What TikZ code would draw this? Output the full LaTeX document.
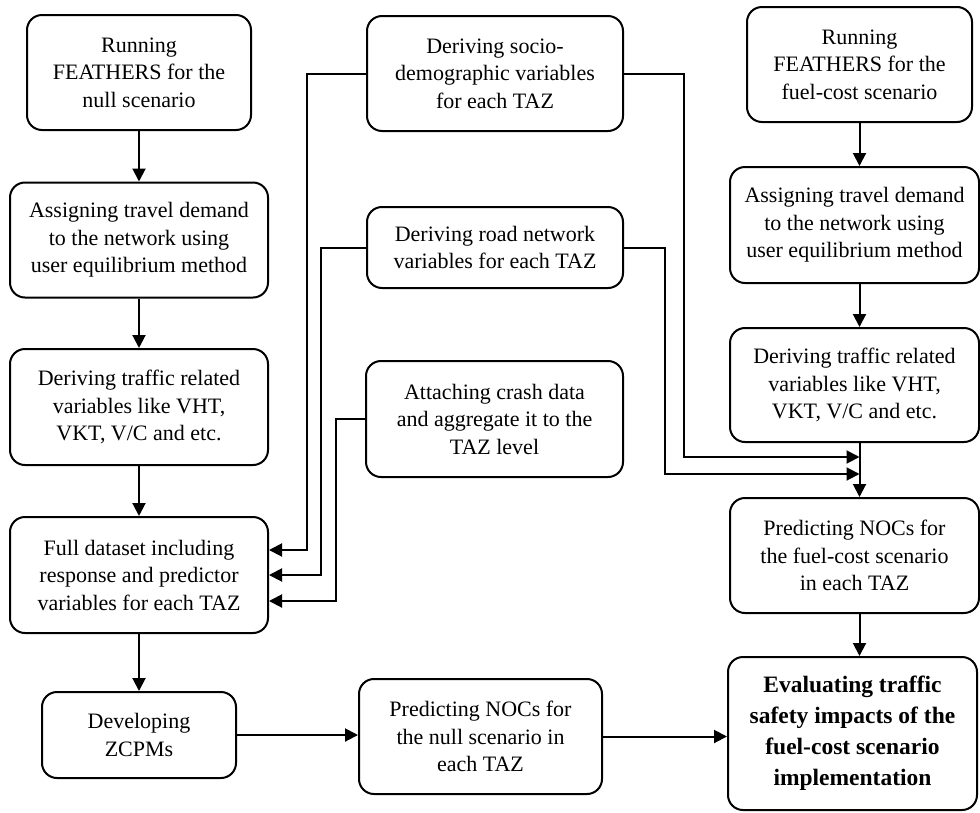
\documentclass[tikz,border=0pt]{standalone}
\usepackage{fontspec}
\setmainfont{Liberation Serif}
\newfontfamily\tnr{Liberation Serif}
\usetikzlibrary{arrows.meta}
\begin{document}
\begin{tikzpicture}[x=1pt,y=-1pt,
 box/.style={draw, line width=2pt, rounded corners=15pt, align=center, inner sep=0pt, font=\tnr\fontsize{22}{27.5}\selectfont},
 boldbox/.style={box, font=\tnr\fontsize{23.5}{31}\selectfont\bfseries},
 arr/.style={line width=2pt, -{Triangle[length=13pt,width=13pt]}}]
\useasboundingbox (0,0) rectangle (980,812);

% left column
\node[box, minimum width=224pt, minimum height=115pt] (L1) at (139,72.5) {Running\\FEATHERS for the\\null scenario};
\node[box, minimum width=258pt, minimum height=115pt] (L2) at (139,240) {Assigning travel demand\\to the network using\\user equilibrium method};
\node[box, minimum width=258pt, minimum height=116pt] (L3) at (139,407) {Deriving traffic related\\variables like VHT,\\VKT, V/C and etc.};
\node[box, minimum width=258pt, minimum height=116pt] (L4) at (139,575) {Full dataset including\\response and predictor\\variables for each TAZ};
\node[box, minimum width=194pt, minimum height=86pt] (L5) at (139,735) {Developing\\ZCPMs};

% middle column
\node[box, minimum width=256pt, minimum height=115pt] (M1) at (495,73.5) {Deriving socio-\\demographic variables\\for each TAZ};
\node[box, minimum width=256pt, minimum height=81pt] (M2) at (495,247.5) {Deriving road network\\variables for each TAZ};
\node[box, minimum width=257pt, minimum height=116pt] (M3) at (494.5,419) {Attaching crash data\\and aggregate it to the\\TAZ level};
\node[box, minimum width=243pt, minimum height=115pt] (M4) at (480.5,736.5) {Predicting NOCs for\\the null scenario in\\each TAZ};

% right column
\node[box, minimum width=225pt, minimum height=115pt] (R1) at (859.5,64.5) {Running\\FEATHERS for the\\fuel-cost scenario};
\node[box, minimum width=249pt, minimum height=116pt] (R2) at (854.5,225) {Assigning travel demand\\to the network using\\user equilibrium method};
\node[box, minimum width=249pt, minimum height=114pt] (R3) at (854.5,385) {Deriving traffic related\\variables like VHT,\\VKT, V/C and etc.};
\node[box, minimum width=249pt, minimum height=115pt] (R4) at (854.5,555.5) {Predicting NOCs for\\the fuel-cost scenario\\in each TAZ};
\node[boldbox, minimum width=249pt, minimum height=153pt] (R5) at (852.5,733.5) {Evaluating traffic\\safety impacts of the\\fuel-cost scenario\\implementation};

% left column flow
\draw[arr] (L1) -- (L2);
\draw[arr] (L2) -- (L3);
\draw[arr] (L3) -- (L4);
\draw[arr] (L4) -- (L5);
\draw[arr] (L5.east) -- (L5.east -| M4.west);
\draw[arr] (M4.east) -- (M4.east -| R5.west);

% right column flow
\draw[arr] (R1.south) -- (R1.south |- R2.north);
\draw[arr] (R1.south |- R2.south) -- (R1.south |- R3.north);
\draw[arr] (R1.south |- R3.south) -- (R1.south |- R4.north);
\draw[arr] (R1.south |- R4.south) -- (R1.south |- R5.north);

% junctions
\coordinate (j1) at (859.5,457);
\coordinate (j2) at (859.5,474);
\draw[arr] (M1.east) -- ++(60,0) |- (j1);
\draw[arr] (M2.east) -- ++(41,0) |- (j2);

% into full dataset
\draw[arr] (M1.west) -- ++(-59,0) |- ([yshift=25pt]L4.east);
\draw[arr] (M2.west) -- ++(-45,0) |- (L4.east);
\draw[arr] (M3.west) -- ++(-29,0) |- ([yshift=-26pt]L4.east);
\end{tikzpicture}
\end{document}
